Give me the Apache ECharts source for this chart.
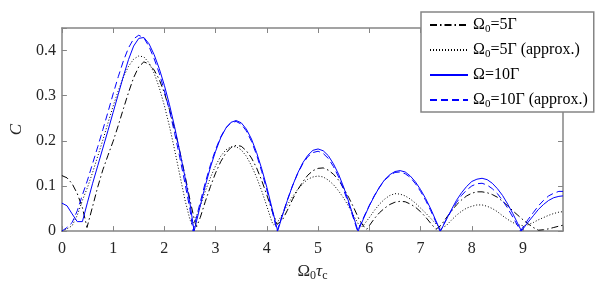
<!DOCTYPE html>
<html>
<head>
<meta charset="utf-8">
<script src="https://cdn.jsdelivr.net/npm/echarts@6/dist/echarts.min.js"></script>
<style>html,body{margin:0;padding:0;background:#fff;}#c{width:611px;height:287px;}</style>
</head>
<body>
<div id="c"></div>
<script>
// x grid (Omega0 * tau_c)
const xGrid = [0,0.1,0.2,0.3,0.4,0.5,0.6,0.7,0.8,0.9,1.0,1.1,1.2,1.3,1.4,1.5,1.6,1.7,1.8,1.9,
2.0,2.1,2.2,2.3,2.4,2.5,2.6,2.7,2.8,2.9,3.0,3.1,3.2,3.3,3.4,3.5,3.6,3.7,3.8,3.9,
4.0,4.1,4.2,4.3,4.4,4.5,4.6,4.7,4.8,4.9,5.0,5.1,5.2,5.3,5.4,5.5,5.6,5.7,5.8,5.9,
6.0,6.1,6.2,6.3,6.4,6.5,6.6,6.7,6.8,6.9,7.0,7.1,7.2,7.3,7.4,7.5,7.6,7.7,7.8,7.9,
8.0,8.1,8.2,8.3,8.4,8.5,8.6,8.7,8.8,8.9,9.0,9.1,9.2,9.3,9.4,9.5,9.6,9.7,9.78];

// Omega0 = 5 Gamma (exact), dash-dot
const exact5 = [0.123,0.118,0.105,0.083,0.052,0.012,0.055,0.098,0.136,0.168,
0.199,0.234,0.271,0.307,0.340,0.364,0.375,0.370,0.357,0.336,
0.306,0.269,0.226,0.177,0.125,0.069,0.018,0.030,0.066,0.099,
0.129,0.154,0.173,0.185,0.190,0.188,0.178,0.162,0.140,0.112,
0.080,0.046,0.015,0.024,0.046,0.070,0.091,0.109,0.124,0.134,
0.139,0.140,0.135,0.126,0.113,0.095,0.074,0.051,0.026,0.009,
0.012,0.028,0.041,0.051,0.059,0.064,0.066,0.065,0.060,0.053,
0.043,0.031,0.017,0.004,0.013,0.029,0.044,0.058,0.069,0.078,
0.084,0.087,0.087,0.085,0.081,0.075,0.066,0.056,0.045,0.035,
0.025,0.016,0.008,0.002,0.003,0.005,0.008,0.011,0.013];
const exact5Cusps = [[0.49,0.008],[2.63,0.010],[5.95,0.004],[7.32,0.002]];

// Omega0 = 5 Gamma (approx.), dotted
const approx5 = [0.000,0.005,0.012,0.035,0.068,0.097,0.130,0.166,0.202,0.240,
0.277,0.311,0.341,0.365,0.381,0.388,0.386,0.373,0.350,0.318,
0.278,0.232,0.180,0.125,0.070,0.025,0.025,0.055,0.089,0.119,
0.145,0.166,0.180,0.187,0.187,0.180,0.166,0.145,0.119,0.089,
0.055,0.020,0.018,0.037,0.058,0.076,0.092,0.105,0.115,0.120,
0.122,0.120,0.113,0.103,0.089,0.073,0.054,0.033,0.013,0.015,
0.030,0.046,0.060,0.071,0.079,0.083,0.082,0.078,0.071,0.062,
0.051,0.040,0.028,0.016,0.006,0.012,0.024,0.035,0.044,0.051,
0.055,0.058,0.058,0.055,0.050,0.043,0.034,0.026,0.019,0.014,
0.012,0.014,0.019,0.025,0.030,0.035,0.039,0.042,0.043];
const approx5Cusps = [[2.54,0.015],[4.13,0.014],[5.85,0.009],[7.43,0.004]];

// Omega = 10 Gamma (exact), solid blue
const exact10 = [0.062,0.056,0.038,0.021,0.021,0.064,0.106,0.145,0.184,0.223,
0.263,0.303,0.343,0.380,0.410,0.427,0.429,0.415,0.391,0.360,
0.323,0.280,0.231,0.177,0.121,0.061,0.009,0.056,0.101,0.142,
0.177,0.207,0.228,0.241,0.245,0.240,0.226,0.204,0.174,0.138,
0.097,0.051,0.005,0.033,0.068,0.100,0.128,0.151,0.168,0.179,
0.182,0.178,0.167,0.149,0.126,0.097,0.064,0.029,0.005,0.031,
0.056,0.078,0.098,0.114,0.125,0.132,0.134,0.131,0.122,0.109,
0.092,0.072,0.049,0.023,0.002,0.025,0.047,0.068,0.085,0.099,
0.110,0.115,0.117,0.114,0.106,0.094,0.079,0.060,0.039,0.016,
0.005,0.020,0.034,0.048,0.059,0.068,0.074,0.077,0.078];
const exact10Cusps = [[2.58,0.0],[4.21,0.0],[5.78,0.0],[7.39,0.0],[8.97,0.0]];

// Omega0 = 10 Gamma (approx.), dashed blue
const approx10 = [0.000,0.008,0.019,0.045,0.080,0.113,0.150,0.187,0.225,0.264,
0.304,0.342,0.377,0.406,0.426,0.434,0.428,0.409,0.382,0.350,
0.311,0.267,0.217,0.164,0.107,0.048,0.019,0.064,0.108,0.147,
0.181,0.209,0.229,0.240,0.243,0.237,0.222,0.199,0.169,0.132,
0.091,0.046,0.000,0.035,0.069,0.100,0.127,0.149,0.165,0.174,
0.177,0.172,0.161,0.143,0.120,0.091,0.059,0.025,0.008,0.033,
0.057,0.079,0.097,0.113,0.123,0.130,0.131,0.127,0.119,0.105,
0.088,0.068,0.045,0.020,0.004,0.025,0.045,0.063,0.079,0.091,
0.100,0.105,0.106,0.102,0.094,0.083,0.068,0.051,0.031,0.011,
0.009,0.026,0.041,0.056,0.068,0.078,0.084,0.088,0.088];
const approx10Cusps = [[2.56,0.0],[5.77,0.0],[7.38,0.0],[8.95,0.0]];

const seriesNames = ['Ω0=5Γ','Ω0=5Γ (approx.)','Ω=10Γ','Ω0=10Γ (approx.)'];
const legendRich = {
  'Ω0=5Γ': 'Ω{s|0}=5Γ',
  'Ω0=5Γ (approx.)': 'Ω{s|0}=5Γ (approx.)',
  'Ω=10Γ': 'Ω=10Γ',
  'Ω0=10Γ (approx.)': 'Ω{s|0}=10Γ (approx.)'
};

function pts(ys, cusps) {
  const a = xGrid.map((x, i) => [x, ys[i]]).concat(cusps);
  a.sort((p, q) => p[0] - q[0]);
  return a;
}

const FONT = 'Liberation Serif';
const AX = '#858585';
const TXT = '#262626';
const chart = echarts.init(document.getElementById('c'), null, {renderer: 'canvas'});

const baseAxisX = {
  type: 'value', min: 0, max: 9.78, interval: 1,
  axisLine: {show: true, onZero: false, lineStyle: {color: AX, width: 1.5}},
  axisTick: {show: true, inside: true, length: 5, lineStyle: {color: AX, width: 1}},
  splitLine: {show: false}
};
const baseAxisY = {
  type: 'value', min: 0, max: 0.45, interval: 0.1,
  axisLine: {show: true, onZero: false, lineStyle: {color: AX, width: 1.5}},
  axisTick: {show: true, inside: true, length: 5, lineStyle: {color: AX, width: 1}},
  splitLine: {show: false}
};

const lineDefs = [
  {data: pts(exact5, exact5Cusps), color: '#000000', type: [7, 3, 1.5, 3]},
  {data: pts(approx5, approx5Cusps), color: '#000000', type: [1, 2]},
  {data: pts(exact10, exact10Cusps), color: '#0000ff', type: 'solid'},
  {data: pts(approx10, approx10Cusps), color: '#0000ff', type: [7, 4]}
];

chart.setOption({
  animation: false,
  backgroundColor: '#ffffff',
  grid: {left: 59, right: 48, top: 28, bottom: 48, containLabel: false},
  xAxis: [
    Object.assign({}, baseAxisX, {
      position: 'bottom',
      axisLabel: {show: true, margin: 10, fontFamily: FONT, fontSize: 16, color: TXT,
        formatter: v => (Math.abs(v - Math.round(v)) < 1e-6 ? String(Math.round(v)) : '')},
      name: 'Ω{s|0}{t|τ}{c|c}', nameLocation: 'middle', nameGap: 25,
      nameTextStyle: {fontFamily: FONT, fontSize: 17, color: TXT, lineHeight: 20,
        rich: {
          s: {fontFamily: FONT, fontSize: 12, lineHeight: 8, verticalAlign: 'bottom', color: TXT},
          t: {fontFamily: FONT, fontSize: 17, fontStyle: 'italic', lineHeight: 20, color: TXT},
          c: {fontFamily: FONT, fontSize: 12, lineHeight: 8, verticalAlign: 'bottom', color: TXT}
        }}
    }),
    Object.assign({}, baseAxisX, {position: 'top', axisLabel: {show: false}})
  ],
  yAxis: [
    Object.assign({}, baseAxisY, {
      position: 'left',
      axisLabel: {show: true, margin: 6, fontFamily: FONT, fontSize: 16, color: TXT,
        formatter: v => (v > 0.42 ? '' : String(Math.round(v * 10) / 10))},
      name: 'C', nameLocation: 'middle', nameGap: 25,
      nameTextStyle: {fontFamily: FONT, fontSize: 17, fontStyle: 'italic', color: TXT}
    }),
    Object.assign({}, baseAxisY, {position: 'right', axisLabel: {show: false}})
  ],
  legend: {
    orient: 'vertical', left: 421, top: 12,
    padding: [3, 6, 2, 8],
    itemWidth: 38, itemHeight: 14, itemGap: 5,
    backgroundColor: '#ffffff', borderColor: AX, borderWidth: 1.5, borderRadius: 0,
    itemStyle: {opacity: 0},
    data: seriesNames,
    formatter: name => legendRich[name],
    textStyle: {fontFamily: FONT, fontSize: 16, color: '#000', lineHeight: 20,
      rich: {s: {fontFamily: FONT, fontSize: 11, lineHeight: 8, verticalAlign: 'bottom', color: '#000'}}}
  },
  series: lineDefs.map((d, i) => ({
    name: seriesNames[i], type: 'line', xAxisIndex: 0, yAxisIndex: 0,
    data: d.data, showSymbol: false, symbol: 'none', smooth: false,
    lineStyle: {color: d.color, width: 1, type: d.type},
    itemStyle: {color: d.color},
    z: 2 + (i >= 2 ? 1 : 0)
  }))
});
</script>
</body>
</html>
